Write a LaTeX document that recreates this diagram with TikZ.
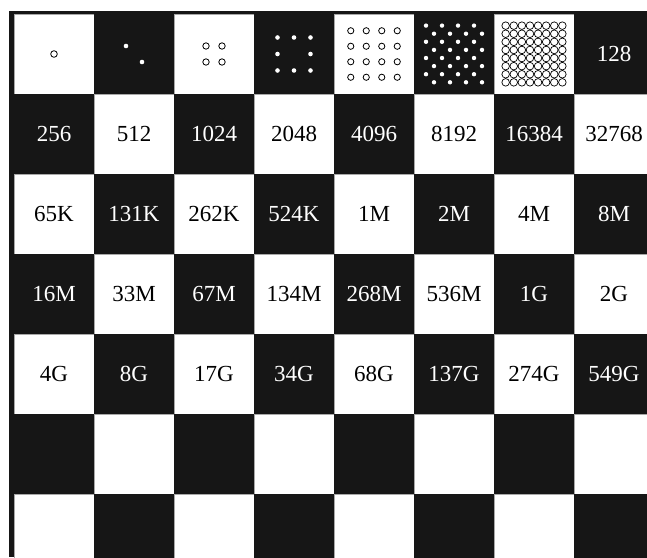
\documentclass[tikz,border=0pt]{standalone}
\usepackage{fontspec}
\setmainfont{Liberation Serif}
\usetikzlibrary{positioning}

\definecolor{boarddark}{HTML}{161616}
\definecolor{cellline}{HTML}{A8A8A8}

\begin{document}
\begin{tikzpicture}[
    x=1pt, y=-1pt,
    square/.style={rectangle, minimum size=80pt, inner sep=0pt, outer sep=0pt,
                   font=\fontsize{23}{23}\selectfont},
    lightcell/.style={square, fill=white, draw=cellline, line width=0.7pt, text=black},
    darkcell/.style={square, fill=boarddark, text=white},
    grain/.style={fill=white},
    hollow/.style={draw=black, line width=0.8pt, fill=white}
]
    \useasboundingbox (0,0) rectangle (647,557);
    \clip (0,0) rectangle (647,557);
    \fill[boarddark] (9,11) rectangle (647,557);

    % the board, with the counts
    \foreach \lab [count=\n from 0] in {{},{},{},{},{},{},{},128,
        256,512,1024,2048,4096,8192,16384,32768,
        65K,131K,262K,524K,1M,2M,4M,8M,
        16M,33M,67M,134M,268M,536M,1G,2G,
        4G,8G,17G,34G,68G,137G,274G,549G,
        {},{},{},{},{},{},{},{},
        {},{},{},{},{},{},{},{}}{
      \pgfmathtruncatemacro\row{int(\n/8)}
      \pgfmathtruncatemacro\col{\n-8*\row}
      \ifodd\numexpr\row+\col\relax
        \def\cellstyle{darkcell}%
      \else
        \def\cellstyle{lightcell}%
      \fi
      \node[\cellstyle] (cell-\row-\col) at (54+80*\col, 54+80*\row) {\lab};
    }

    % grains, first row
    \draw[hollow] (cell-0-0) circle (3.3);
    \begin{scope}[shift={(cell-0-1)}]
      \fill[grain] (-8,-8) circle (2.3) (8,8) circle (2.3);
    \end{scope}
    \begin{scope}[shift={(cell-0-2)}]
      \foreach \i in {-8,8} \foreach \j in {-8,8}
        \draw[hollow] (\i,\j) circle (3.2);
    \end{scope}
    \begin{scope}[shift={(cell-0-3)}]
      \foreach \i/\j in {-16.5/-16.5,0/-16.5,16.5/-16.5,-16.5/0,16.5/0,-16.5/16.5,0/16.5,16.5/16.5}
        \fill[grain] (\i,\j) circle (2.3);
    \end{scope}
    \begin{scope}[shift={(cell-0-4)}]
      \foreach \i in {-23.25,-7.75,7.75,23.25} \foreach \j in {-23.25,-7.75,7.75,23.25}
        \draw[hollow] (\i,\j) circle (3.1);
    \end{scope}
    \begin{scope}[shift={(cell-0-5)}]
      \foreach \k in {0,...,7}{
        \pgfmathsetmacro\yy{-28.4+8.1*\k}
        \pgfmathsetmacro\xs{mod(\k,2)==0 ? -28 : -20}
        \foreach \m in {0,...,3}
          \fill[grain] (\xs+16*\m,\yy) circle (2.2);
      }
    \end{scope}
    \begin{scope}[shift={(cell-0-6)}]
      \foreach \i in {0,...,7} \foreach \j in {0,...,7}
        \draw[hollow, line width=0.7pt] (-28.35+8.1*\i,-28.35+8.1*\j) circle (3.8);
    \end{scope}
\end{tikzpicture}
\end{document}
